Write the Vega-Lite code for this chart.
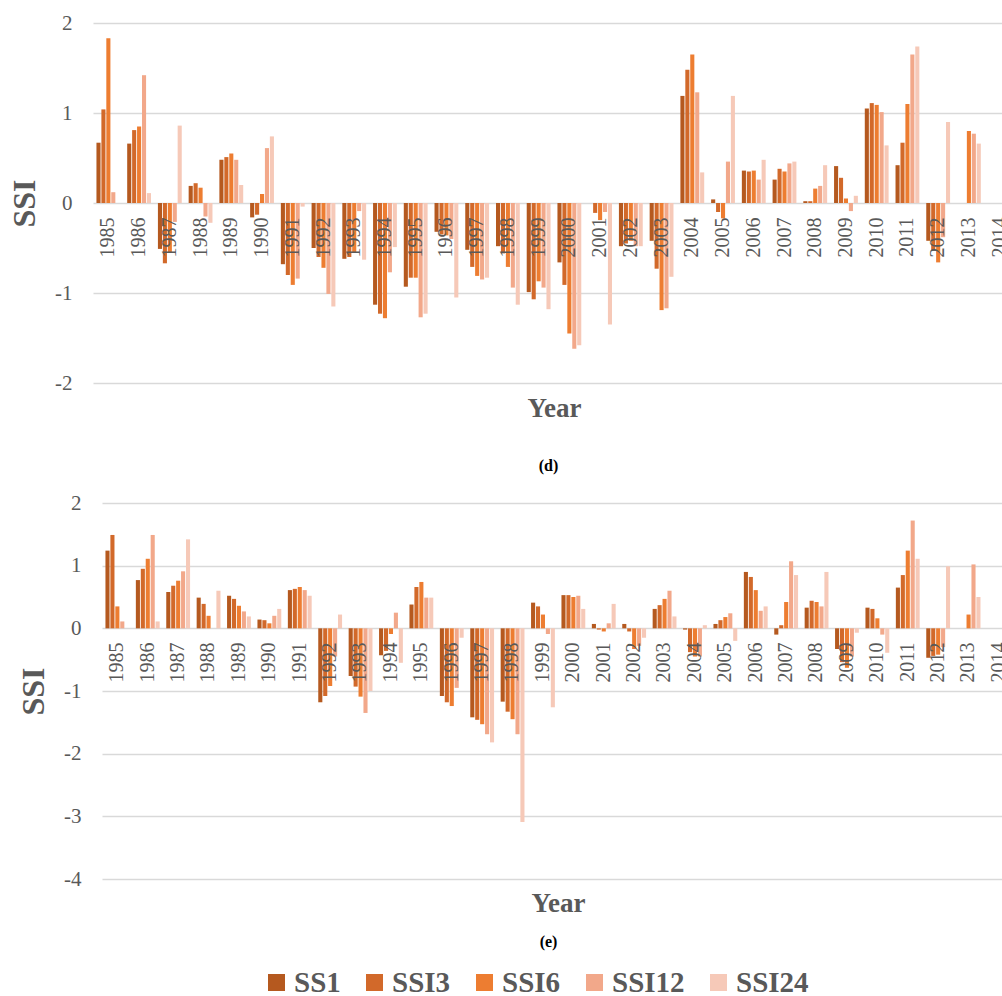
{
  "$schema": "https://vega.github.io/schema/vega-lite/v6.json",
  "background": "white",
  "padding": {"left": 8, "top": 12, "right": -8, "bottom": 0},
  "spacing": 18,
  "datasets": {
    "d": [
      {"t":"1985","s":"SS1","v":0.67},{"t":"1985","s":"SSI3","v":1.04},{"t":"1985","s":"SSI6","v":1.83},{"t":"1985","s":"SSI12","v":0.12},
      {"t":"1986","s":"SS1","v":0.66},{"t":"1986","s":"SSI3","v":0.81},{"t":"1986","s":"SSI6","v":0.85},{"t":"1986","s":"SSI12","v":1.42},{"t":"1986","s":"SSI24","v":0.11},
      {"t":"1987","s":"SS1","v":-0.51},{"t":"1987","s":"SSI3","v":-0.67},{"t":"1987","s":"SSI6","v":-0.55},{"t":"1987","s":"SSI12","v":-0.21},{"t":"1987","s":"SSI24","v":0.86},
      {"t":"1988","s":"SS1","v":0.19},{"t":"1988","s":"SSI3","v":0.22},{"t":"1988","s":"SSI6","v":0.17},{"t":"1988","s":"SSI12","v":-0.15},{"t":"1988","s":"SSI24","v":-0.22},
      {"t":"1989","s":"SS1","v":0.48},{"t":"1989","s":"SSI3","v":0.51},{"t":"1989","s":"SSI6","v":0.55},{"t":"1989","s":"SSI12","v":0.48},{"t":"1989","s":"SSI24","v":0.2},
      {"t":"1990","s":"SS1","v":-0.16},{"t":"1990","s":"SSI3","v":-0.13},{"t":"1990","s":"SSI6","v":0.1},{"t":"1990","s":"SSI12","v":0.61},{"t":"1990","s":"SSI24","v":0.74},
      {"t":"1991","s":"SS1","v":-0.68},{"t":"1991","s":"SSI3","v":-0.8},{"t":"1991","s":"SSI6","v":-0.91},{"t":"1991","s":"SSI12","v":-0.84},{"t":"1991","s":"SSI24","v":-0.04},
      {"t":"1992","s":"SS1","v":-0.5},{"t":"1992","s":"SSI3","v":-0.6},{"t":"1992","s":"SSI6","v":-0.72},{"t":"1992","s":"SSI12","v":-1.01},{"t":"1992","s":"SSI24","v":-1.15},
      {"t":"1993","s":"SS1","v":-0.62},{"t":"1993","s":"SSI3","v":-0.6},{"t":"1993","s":"SSI6","v":-0.55},{"t":"1993","s":"SSI12","v":-0.09},{"t":"1993","s":"SSI24","v":-0.63},
      {"t":"1994","s":"SS1","v":-1.13},{"t":"1994","s":"SSI3","v":-1.23},{"t":"1994","s":"SSI6","v":-1.28},{"t":"1994","s":"SSI12","v":-0.77},{"t":"1994","s":"SSI24","v":-0.49},
      {"t":"1995","s":"SS1","v":-0.93},{"t":"1995","s":"SSI3","v":-0.83},{"t":"1995","s":"SSI6","v":-0.83},{"t":"1995","s":"SSI12","v":-1.27},{"t":"1995","s":"SSI24","v":-1.23},
      {"t":"1996","s":"SS1","v":-0.32},{"t":"1996","s":"SSI3","v":-0.35},{"t":"1996","s":"SSI6","v":-0.36},{"t":"1996","s":"SSI12","v":-0.4},{"t":"1996","s":"SSI24","v":-1.05},
      {"t":"1997","s":"SS1","v":-0.52},{"t":"1997","s":"SSI3","v":-0.71},{"t":"1997","s":"SSI6","v":-0.81},{"t":"1997","s":"SSI12","v":-0.85},{"t":"1997","s":"SSI24","v":-0.83},
      {"t":"1998","s":"SS1","v":-0.48},{"t":"1998","s":"SSI3","v":-0.56},{"t":"1998","s":"SSI6","v":-0.71},{"t":"1998","s":"SSI12","v":-0.94},{"t":"1998","s":"SSI24","v":-1.13},
      {"t":"1999","s":"SS1","v":-0.99},{"t":"1999","s":"SSI3","v":-1.07},{"t":"1999","s":"SSI6","v":-0.87},{"t":"1999","s":"SSI12","v":-0.94},{"t":"1999","s":"SSI24","v":-1.18},
      {"t":"2000","s":"SS1","v":-0.66},{"t":"2000","s":"SSI3","v":-0.91},{"t":"2000","s":"SSI6","v":-1.45},{"t":"2000","s":"SSI12","v":-1.62},{"t":"2000","s":"SSI24","v":-1.58},
      {"t":"2001","s":"SSI3","v":-0.11},{"t":"2001","s":"SSI6","v":-0.19},{"t":"2001","s":"SSI12","v":-0.1},{"t":"2001","s":"SSI24","v":-1.35},
      {"t":"2002","s":"SS1","v":-0.48},{"t":"2002","s":"SSI3","v":-0.45},{"t":"2002","s":"SSI6","v":-0.42},{"t":"2002","s":"SSI12","v":-0.48},{"t":"2002","s":"SSI24","v":-0.48},
      {"t":"2003","s":"SS1","v":-0.42},{"t":"2003","s":"SSI3","v":-0.73},{"t":"2003","s":"SSI6","v":-1.19},{"t":"2003","s":"SSI12","v":-1.17},{"t":"2003","s":"SSI24","v":-0.82},
      {"t":"2004","s":"SS1","v":1.19},{"t":"2004","s":"SSI3","v":1.48},{"t":"2004","s":"SSI6","v":1.65},{"t":"2004","s":"SSI12","v":1.23},{"t":"2004","s":"SSI24","v":0.34},
      {"t":"2005","s":"SS1","v":0.04},{"t":"2005","s":"SSI3","v":-0.1},{"t":"2005","s":"SSI6","v":-0.17},{"t":"2005","s":"SSI12","v":0.46},{"t":"2005","s":"SSI24","v":1.19},
      {"t":"2006","s":"SS1","v":0.36},{"t":"2006","s":"SSI3","v":0.35},{"t":"2006","s":"SSI6","v":0.36},{"t":"2006","s":"SSI12","v":0.26},{"t":"2006","s":"SSI24","v":0.48},
      {"t":"2007","s":"SS1","v":0.26},{"t":"2007","s":"SSI3","v":0.38},{"t":"2007","s":"SSI6","v":0.35},{"t":"2007","s":"SSI12","v":0.44},{"t":"2007","s":"SSI24","v":0.46},
      {"t":"2008","s":"SS1","v":0.02},{"t":"2008","s":"SSI3","v":0.02},{"t":"2008","s":"SSI6","v":0.16},{"t":"2008","s":"SSI12","v":0.19},{"t":"2008","s":"SSI24","v":0.42},
      {"t":"2009","s":"SS1","v":0.41},{"t":"2009","s":"SSI3","v":0.28},{"t":"2009","s":"SSI6","v":0.05},{"t":"2009","s":"SSI12","v":-0.09},{"t":"2009","s":"SSI24","v":0.08},
      {"t":"2010","s":"SS1","v":1.05},{"t":"2010","s":"SSI3","v":1.11},{"t":"2010","s":"SSI6","v":1.09},{"t":"2010","s":"SSI12","v":1.01},{"t":"2010","s":"SSI24","v":0.64},
      {"t":"2011","s":"SS1","v":0.42},{"t":"2011","s":"SSI3","v":0.67},{"t":"2011","s":"SSI6","v":1.1},{"t":"2011","s":"SSI12","v":1.65},{"t":"2011","s":"SSI24","v":1.74},
      {"t":"2012","s":"SS1","v":-0.42},{"t":"2012","s":"SSI3","v":-0.53},{"t":"2012","s":"SSI6","v":-0.66},{"t":"2012","s":"SSI12","v":-0.38},{"t":"2012","s":"SSI24","v":0.9},
      {"t":"2013","s":"SSI6","v":0.8},{"t":"2013","s":"SSI12","v":0.77},{"t":"2013","s":"SSI24","v":0.66}
    ],
    "e": [
      {"t":"1985","s":"SS1","v":1.24},{"t":"1985","s":"SSI3","v":1.49},{"t":"1985","s":"SSI6","v":0.35},{"t":"1985","s":"SSI12","v":0.11},
      {"t":"1986","s":"SS1","v":0.77},{"t":"1986","s":"SSI3","v":0.95},{"t":"1986","s":"SSI6","v":1.11},{"t":"1986","s":"SSI12","v":1.49},{"t":"1986","s":"SSI24","v":0.11},
      {"t":"1987","s":"SS1","v":0.58},{"t":"1987","s":"SSI3","v":0.68},{"t":"1987","s":"SSI6","v":0.76},{"t":"1987","s":"SSI12","v":0.91},{"t":"1987","s":"SSI24","v":1.42},
      {"t":"1988","s":"SS1","v":0.49},{"t":"1988","s":"SSI3","v":0.39},{"t":"1988","s":"SSI6","v":0.2},{"t":"1988","s":"SSI24","v":0.6},
      {"t":"1989","s":"SS1","v":0.52},{"t":"1989","s":"SSI3","v":0.47},{"t":"1989","s":"SSI6","v":0.36},{"t":"1989","s":"SSI12","v":0.27},{"t":"1989","s":"SSI24","v":0.19},
      {"t":"1990","s":"SS1","v":0.14},{"t":"1990","s":"SSI3","v":0.13},{"t":"1990","s":"SSI6","v":0.08},{"t":"1990","s":"SSI12","v":0.2},{"t":"1990","s":"SSI24","v":0.31},
      {"t":"1991","s":"SS1","v":0.61},{"t":"1991","s":"SSI3","v":0.63},{"t":"1991","s":"SSI6","v":0.66},{"t":"1991","s":"SSI12","v":0.61},{"t":"1991","s":"SSI24","v":0.52},
      {"t":"1992","s":"SS1","v":-1.18},{"t":"1992","s":"SSI3","v":-1.08},{"t":"1992","s":"SSI6","v":-0.92},{"t":"1992","s":"SSI12","v":-0.45},{"t":"1992","s":"SSI24","v":0.22},
      {"t":"1993","s":"SS1","v":-0.76},{"t":"1993","s":"SSI3","v":-0.93},{"t":"1993","s":"SSI6","v":-1.09},{"t":"1993","s":"SSI12","v":-1.35},{"t":"1993","s":"SSI24","v":-1.0},
      {"t":"1994","s":"SS1","v":-0.43},{"t":"1994","s":"SSI3","v":-0.36},{"t":"1994","s":"SSI6","v":-0.09},{"t":"1994","s":"SSI12","v":0.25},{"t":"1994","s":"SSI24","v":-0.55},
      {"t":"1995","s":"SS1","v":0.38},{"t":"1995","s":"SSI3","v":0.66},{"t":"1995","s":"SSI6","v":0.74},{"t":"1995","s":"SSI12","v":0.49},{"t":"1995","s":"SSI24","v":0.49},
      {"t":"1996","s":"SS1","v":-1.08},{"t":"1996","s":"SSI3","v":-1.18},{"t":"1996","s":"SSI6","v":-1.24},{"t":"1996","s":"SSI12","v":-0.95},{"t":"1996","s":"SSI24","v":-0.15},
      {"t":"1997","s":"SS1","v":-1.42},{"t":"1997","s":"SSI3","v":-1.46},{"t":"1997","s":"SSI6","v":-1.53},{"t":"1997","s":"SSI12","v":-1.69},{"t":"1997","s":"SSI24","v":-1.82},
      {"t":"1998","s":"SS1","v":-1.17},{"t":"1998","s":"SSI3","v":-1.33},{"t":"1998","s":"SSI6","v":-1.45},{"t":"1998","s":"SSI12","v":-1.69},{"t":"1998","s":"SSI24","v":-3.09},
      {"t":"1999","s":"SS1","v":0.41},{"t":"1999","s":"SSI3","v":0.35},{"t":"1999","s":"SSI6","v":0.22},{"t":"1999","s":"SSI12","v":-0.09},{"t":"1999","s":"SSI24","v":-1.26},
      {"t":"2000","s":"SS1","v":0.53},{"t":"2000","s":"SSI3","v":0.53},{"t":"2000","s":"SSI6","v":0.5},{"t":"2000","s":"SSI12","v":0.52},{"t":"2000","s":"SSI24","v":0.31},
      {"t":"2001","s":"SS1","v":0.07},{"t":"2001","s":"SSI3","v":-0.02},{"t":"2001","s":"SSI6","v":-0.05},{"t":"2001","s":"SSI12","v":0.08},{"t":"2001","s":"SSI24","v":0.39},
      {"t":"2002","s":"SS1","v":0.07},{"t":"2002","s":"SSI3","v":-0.05},{"t":"2002","s":"SSI6","v":-0.33},{"t":"2002","s":"SSI12","v":-0.28},{"t":"2002","s":"SSI24","v":-0.15},
      {"t":"2003","s":"SS1","v":0.31},{"t":"2003","s":"SSI3","v":0.37},{"t":"2003","s":"SSI6","v":0.47},{"t":"2003","s":"SSI12","v":0.6},{"t":"2003","s":"SSI24","v":0.19},
      {"t":"2004","s":"SS1","v":-0.02},{"t":"2004","s":"SSI3","v":-0.38},{"t":"2004","s":"SSI6","v":-0.45},{"t":"2004","s":"SSI12","v":-0.45},{"t":"2004","s":"SSI24","v":0.05},
      {"t":"2005","s":"SS1","v":0.07},{"t":"2005","s":"SSI3","v":0.13},{"t":"2005","s":"SSI6","v":0.18},{"t":"2005","s":"SSI12","v":0.24},{"t":"2005","s":"SSI24","v":-0.2},
      {"t":"2006","s":"SS1","v":0.9},{"t":"2006","s":"SSI3","v":0.82},{"t":"2006","s":"SSI6","v":0.61},{"t":"2006","s":"SSI12","v":0.28},{"t":"2006","s":"SSI24","v":0.35},
      {"t":"2007","s":"SS1","v":-0.1},{"t":"2007","s":"SSI3","v":0.05},{"t":"2007","s":"SSI6","v":0.42},{"t":"2007","s":"SSI12","v":1.07},{"t":"2007","s":"SSI24","v":0.85},
      {"t":"2008","s":"SS1","v":0.33},{"t":"2008","s":"SSI3","v":0.44},{"t":"2008","s":"SSI6","v":0.42},{"t":"2008","s":"SSI12","v":0.35},{"t":"2008","s":"SSI24","v":0.9},
      {"t":"2009","s":"SS1","v":-0.33},{"t":"2009","s":"SSI3","v":-0.54},{"t":"2009","s":"SSI6","v":-0.63},{"t":"2009","s":"SSI12","v":-0.45},{"t":"2009","s":"SSI24","v":-0.07},
      {"t":"2010","s":"SS1","v":0.33},{"t":"2010","s":"SSI3","v":0.31},{"t":"2010","s":"SSI6","v":0.16},{"t":"2010","s":"SSI12","v":-0.1},{"t":"2010","s":"SSI24","v":-0.39},
      {"t":"2011","s":"SS1","v":0.65},{"t":"2011","s":"SSI3","v":0.85},{"t":"2011","s":"SSI6","v":1.24},{"t":"2011","s":"SSI12","v":1.72},{"t":"2011","s":"SSI24","v":1.11},
      {"t":"2012","s":"SS1","v":-0.47},{"t":"2012","s":"SSI3","v":-0.44},{"t":"2012","s":"SSI6","v":-0.42},{"t":"2012","s":"SSI12","v":-0.3},{"t":"2012","s":"SSI24","v":0.99},
      {"t":"2013","s":"SSI6","v":0.22},{"t":"2013","s":"SSI12","v":1.02},{"t":"2013","s":"SSI24","v":0.5}
    ]
  },
  "vconcat": [
    {
      "data": {"name": "d"},
      "width": 911,
      "height": 360,
      "title": {"text": "(d)", "orient": "bottom", "offset": 37, "fontSize": 16, "fontWeight": "bold", "color": "#000000", "font": "Liberation Serif", "baseline": "top", "anchor": "middle"},
      "mark": {"type": "bar"},
      "encoding": {
        "x": {"field": "t", "type": "nominal", "sort": null,
          "scale": {"domain": ["1985","1986","1987","1988","1989","1990","1991","1992","1993","1994","1995","1996","1997","1998","1999","2000","2001","2002","2003","2004","2005","2006","2007","2008","2009","2010","2011","2012","2013","2014"], "range": [0, 922], "paddingInner": 0, "paddingOuter": 0},
          "axis": {"title": "Year", "titleFontSize": 27, "titleFontWeight": "bold", "titleY": 213, "titleBaseline": "alphabetic", "labelAngle": -90, "labelFontSize": 20, "labelPadding": 14, "offset": -180, "zindex": 1, "grid": false}},
        "xOffset": {"field": "s", "type": "nominal", "scale": {"domain": ["SS1","SSI3","SSI6","SSI12","SSI24"], "paddingInner": 0.17, "paddingOuter": 0.7}},
        "y": {"field": "v", "type": "quantitative",
          "scale": {"domain": [-2, 2], "nice": false},
          "axis": {"title": "SSI", "titleFontSize": 32, "titleFontWeight": "bold", "titlePadding": 13, "labelFontSize": 21, "labelPadding": 21, "values": [-2, -1, 0, 1, 2], "labelExpr": "'' + datum.value", "grid": true}},
        "color": {"field": "s", "type": "nominal",
          "scale": {"domain": ["SS1","SSI3","SSI6","SSI12","SSI24"], "range": ["#B5591F","#D2692A","#ED7D31","#F2A88A","#F6C9B8"]},
          "legend": {"title": null, "orient": "none", "direction": "horizontal", "legendX": 169, "legendY": 945, "gridAlign": "none", "symbolType": "square", "symbolSize": 289, "symbolStrokeWidth": 0, "labelFontSize": 29, "labelFontWeight": "bold", "labelFont": "Liberation Serif", "labelColor": "#595959", "labelOffset": 3, "columnPadding": 19, "padding": 0}}
      }
    },
    {
      "data": {"name": "e"},
      "width": 911,
      "height": 376,
      "title": {"text": "(e)", "orient": "bottom", "offset": 18, "fontSize": 16, "fontWeight": "bold", "color": "#000000", "font": "Liberation Serif", "baseline": "top", "anchor": "middle"},
      "mark": {"type": "bar"},
      "encoding": {
        "x": {"field": "t", "type": "nominal", "sort": null,
          "scale": {"domain": ["1985","1986","1987","1988","1989","1990","1991","1992","1993","1994","1995","1996","1997","1998","1999","2000","2001","2002","2003","2004","2005","2006","2007","2008","2009","2010","2011","2012","2013","2014"], "range": [9, 921], "paddingInner": 0, "paddingOuter": 0},
          "axis": {"title": "Year", "titleFontSize": 27, "titleFontWeight": "bold", "titleY": 283, "titleBaseline": "alphabetic", "labelAngle": -90, "labelFontSize": 20, "labelPadding": 14, "offset": -251, "zindex": 1, "grid": false}},
        "xOffset": {"field": "s", "type": "nominal", "scale": {"domain": ["SS1","SSI3","SSI6","SSI12","SSI24"], "paddingInner": 0.17, "paddingOuter": 0.7}},
        "y": {"field": "v", "type": "quantitative",
          "scale": {"domain": [-4, 2], "nice": false},
          "axis": {"title": "SSI", "titleFontSize": 32, "titleFontWeight": "bold", "titlePadding": 13, "labelFontSize": 21, "labelPadding": 21, "offset": -9, "values": [-4, -3, -2, -1, 0, 1, 2], "labelExpr": "'' + datum.value", "grid": true}},
        "color": {"field": "s", "type": "nominal",
          "scale": {"domain": ["SS1","SSI3","SSI6","SSI12","SSI24"], "range": ["#B5591F","#D2692A","#ED7D31","#F2A88A","#F6C9B8"]},
          "legend": {"title": null, "orient": "none", "direction": "horizontal", "legendX": 169, "legendY": 945, "gridAlign": "none", "symbolType": "square", "symbolSize": 289, "symbolStrokeWidth": 0, "labelFontSize": 29, "labelFontWeight": "bold", "labelFont": "Liberation Serif", "labelColor": "#595959", "labelOffset": 3, "columnPadding": 19, "padding": 0}}
      }
    }
  ],
  "resolve": {"scale": {"color": "shared"}, "legend": {"color": "shared"}},
  "config": {
    "view": {"stroke": null},
    "font": "Liberation Serif",
    "axis": {"labelFont": "Liberation Serif", "titleFont": "Liberation Serif", "labelColor": "#595959", "titleColor": "#595959", "domain": false, "ticks": false, "tickSize": 0, "gridColor": "#D9D9D9", "gridWidth": 1.3}
  }
}
